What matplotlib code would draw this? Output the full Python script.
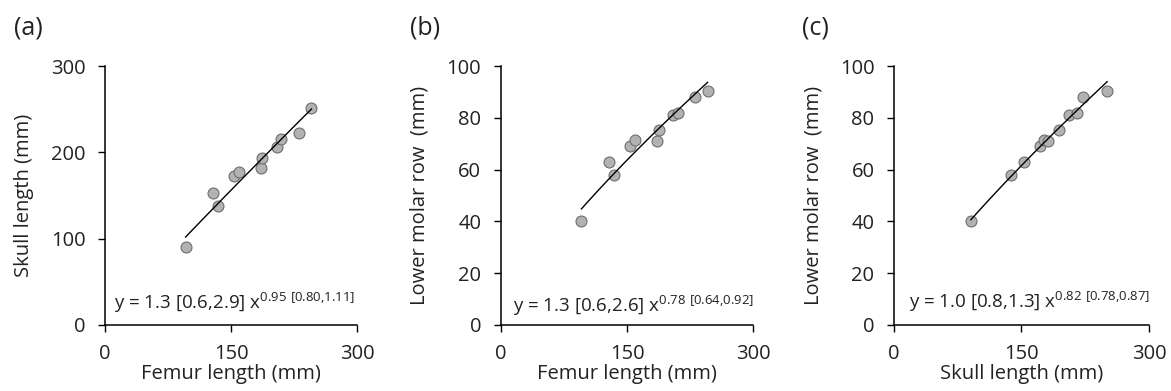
import numpy as np
import matplotlib
matplotlib.use("Agg")
import matplotlib.pyplot as plt

plt.rcParams['font.family'] = ['Open Sans', 'DejaVu Sans']
plt.rcParams['mathtext.fontset'] = 'custom'
plt.rcParams['mathtext.rm'] = 'Open Sans'

# Data (mm), one entry per specimen
femur = [95.9, 128.8, 134.3, 153.8, 158.9, 185.5, 187.4, 204.9, 210.0, 231.0, 245.7]
skull = [90.5, 153.4, 137.4, 172.1, 176.7, 181.7, 193.9, 206.1, 214.9, 222.1, 250.8]
molar = [40.0, 63.0, 58.0, 69.3, 71.5, 71.2, 75.2, 81.0, 81.7, 88.2, 90.5]

panel_labels = ['(a)', '(b)', '(c)']
x_labels = ['Femur length (mm)', 'Femur length (mm)', 'Skull length (mm)']
y_labels = ['Skull length (mm)', 'Lower molar row  (mm)', 'Lower molar row  (mm)']
x_ticks = [0, 150, 300]
y_ticks_a = [0, 100, 200, 300]
y_ticks_bc = [0, 20, 40, 60, 80, 100]
equations = [
    r"y = 1.3 [0.6,2.9] $\mathregular{x^{0.95\ [0.80{,}1.11]}}$",
    r"y = 1.3 [0.6,2.6] $\mathregular{x^{0.78\ [0.64{,}0.92]}}$",
    r"y = 1.0 [0.8,1.3] $\mathregular{x^{0.82\ [0.78{,}0.87]}}$",
]

fig = plt.figure(figsize=(11.71, 3.91), dpi=100)
lefts = [0.0897, 0.4276, 0.7634]
widths = [0.2152, 0.2157, 0.2178]
pairs = [(femur, skull), (femur, molar), (skull, molar)]
ylims = [300, 100, 100]
yticks = [y_ticks_a, y_ticks_bc, y_ticks_bc]
eq_pos = [(0.035, 0.087), (0.05, 0.072), (0.06, 0.088)]

txt_color = '#222222'
for i in range(3):
    ax = fig.add_axes([lefts[i], 0.1688, widths[i], 0.6624])
    x = np.array(pairs[i][0])
    y = np.array(pairs[i][1])
    ax.scatter(x, y, s=62, facecolor='#b2b2b2', edgecolor='#6e6e6e',
               linewidth=0.8, zorder=3)
    # power-law fit on log scale
    b, loga = np.polyfit(np.log(x), np.log(y), 1)
    xf = np.linspace(x.min(), x.max(), 50)
    ax.plot(xf, np.exp(loga) * xf ** b, color='black', lw=1.0, zorder=4)
    ax.set_xlim(0, 300)
    ax.set_ylim(0, ylims[i])
    ax.set_xticks(x_ticks)
    ax.set_yticks(yticks[i])
    for s in ['top', 'right']:
        ax.spines[s].set_visible(False)
    for s in ['left', 'bottom']:
        ax.spines[s].set_linewidth(1.1)
        ax.spines[s].set_color('black')
    ax.tick_params(direction='out', length=5, width=1.0, labelsize=14.5,
                   labelcolor=txt_color)
    ax.tick_params(axis='y', pad=9)
    ax.tick_params(axis='x', pad=9)
    ax.set_xlabel(x_labels[i], fontsize=14.5, color=txt_color, labelpad=0)
    ax.set_ylabel(y_labels[i], fontsize=14.5, color=txt_color, labelpad=12)
    ax.text(eq_pos[i][0], eq_pos[i][1], equations[i], transform=ax.transAxes,
            fontsize=13.5, color=txt_color, va='center', ha='left')
    ax.text(-0.36, 1.145, panel_labels[i], transform=ax.transAxes, fontsize=18,
            color=txt_color, va='center', ha='left')
    ax.patch.set_alpha(0)

fig.savefig('out.png', dpi=100)
